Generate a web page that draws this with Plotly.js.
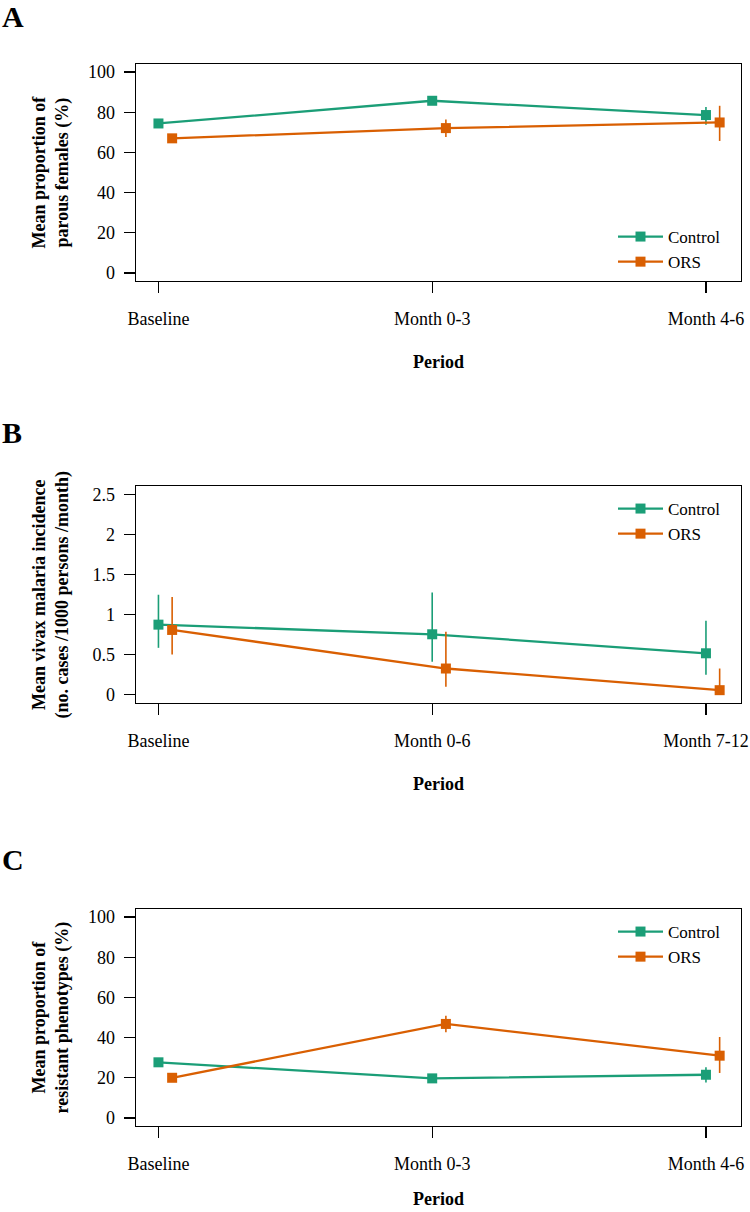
<!DOCTYPE html>
<html>
<head>
<meta charset="utf-8">
<script src="https://cdn.plot.ly/plotly-3.0.1.min.js"></script>
<style>
  html, body { margin: 0; padding: 0; background: #fff; }
  #chart { width: 750px; height: 1212px; }
</style>
</head>
<body>
<div id="chart"></div>
<script>
// panel A: parous females (%)
const periodsA = ["Baseline", "Month 0-3", "Month 4-6"];
const controlA = [74.4, 85.7, 78.6];
const controlALow = [73.4, 84.7, 73.8];
const controlAHigh = [75.4, 86.7, 82.6];
const orsA = [67.0, 72.1, 74.9];
const orsALow = [66.0, 67.7, 65.7];
const orsAHigh = [68.0, 76.4, 83.2];

// panel B: vivax malaria incidence
const periodsB = ["Baseline", "Month 0-6", "Month 7-12"];
const controlB = [0.874, 0.754, 0.517];
const controlBLow = [0.585, 0.41, 0.249];
const controlBHigh = [1.247, 1.276, 0.924];
const orsB = [0.808, 0.327, 0.057];
const orsBLow = [0.501, 0.10, 0.0];
const orsBHigh = [1.219, 0.784, 0.327];

// panel C: resistant phenotypes (%)
const periodsC = ["Baseline", "Month 0-3", "Month 4-6"];
const controlC = [27.7, 19.7, 21.5];
const controlCLow = [26.7, 17.7, 17.7];
const controlCHigh = [28.7, 21.5, 25.2];
const orsC = [20.0, 46.8, 31.0];
const orsCLow = [19.0, 42.6, 22.4];
const orsCHigh = [21.0, 50.9, 40.3];

const seriesNames = ["Control", "ORS"];
const colors = ["#1b9e77", "#d95f02"];
const positions = [1, 2, 3];
const orsShift = 0.05;

const W = 750, H = 1212;
const FONT = "Liberation Serif, Times New Roman, serif";
const px = (x) => x / W;
const py = (y) => 1 - y / H;

function series(k, xs, mean, low, high, xa, ya, legendId) {
  return {
    type: "scatter",
    mode: "lines+markers",
    name: seriesNames[k],
    x: xs,
    y: mean,
    xaxis: xa,
    yaxis: ya,
    legend: legendId,
    line: { color: colors[k], width: 2.3 },
    marker: { color: colors[k], symbol: "square", size: 10 },
    error_y: {
      type: "data",
      symmetric: false,
      array: high.map((v, i) => v - mean[i]),
      arrayminus: mean.map((v, i) => v - low[i]),
      color: colors[k],
      thickness: 1.6,
      width: 0
    },
    hoverinfo: "skip"
  };
}

const orsX = positions.map((p) => p + orsShift);

const traces = [
  series(0, positions, controlA, controlALow, controlAHigh, "x", "y", "legend"),
  series(1, orsX, orsA, orsALow, orsAHigh, "x", "y", "legend"),
  series(0, positions, controlB, controlBLow, controlBHigh, "x2", "y2", "legend2"),
  series(1, orsX, orsB, orsBLow, orsBHigh, "x2", "y2", "legend2"),
  series(0, positions, controlC, controlCLow, controlCHigh, "x3", "y3", "legend3"),
  series(1, orsX, orsC, orsCLow, orsCHigh, "x3", "y3", "legend3")
];

// plot boxes in pixels: [top, bottom]
const boxes = [[64, 281], [486, 703], [909, 1126]];
const boxLeft = 136, boxRight = 741;

function xAxis(anchor, labels) {
  return {
    anchor: anchor,
    domain: [px(boxLeft), px(boxRight)],
    range: [0.918, 3.128],
    tickvals: positions,
    ticktext: labels,
    ticks: "outside",
    ticklen: 11,
    tickwidth: 1.3,
    tickcolor: "#000",
    ticklabelstandoff: 10,
    showline: true,
    mirror: true,
    linecolor: "#000",
    linewidth: 1.3,
    showgrid: false,
    zeroline: false,
    tickfont: { family: FONT, size: 18, color: "#000" },
    fixedrange: true
  };
}

function yAxis(anchor, box, range, tickvals) {
  return {
    anchor: anchor,
    domain: [py(box[1]), py(box[0])],
    range: range,
    tickvals: tickvals,
    ticktext: tickvals.map(String),
    ticks: "outside",
    ticklen: 11,
    tickwidth: 1.3,
    tickcolor: "#000",
    ticklabelstandoff: 5,
    showline: true,
    mirror: true,
    linecolor: "#000",
    linewidth: 1.3,
    showgrid: false,
    zeroline: false,
    tickfont: { family: FONT, size: 18, color: "#000" },
    fixedrange: true
  };
}

function legendAt(topPx) {
  return {
    x: px(613),
    y: py(topPx),
    xanchor: "left",
    yanchor: "top",
    bgcolor: "rgba(0,0,0,0)",
    borderwidth: 0,
    itemwidth: 45,
    tracegroupgap: 0,
    font: { family: FONT, size: 17, color: "#000" }
  };
}

const bold = (t) => "<b>" + t + "</b>";
const annotations = [];
const letters = ["A", "B", "C"];
const letterTop = [-2, 414, 841];
const periodY = [362, 784, 1199];
const yTitles = [
  "Mean proportion of<br>parous females (%)",
  "Mean vivax malaria incidence<br>(no. cases /1000 persons /month)",
  "Mean proportion of<br>resistant phenotypes (%)"
];
boxes.forEach((box, i) => {
  annotations.push({
    text: bold(letters[i]), xref: "paper", yref: "paper",
    x: 0, y: py(letterTop[i]), xanchor: "left", yanchor: "top",
    showarrow: false, font: { family: FONT, size: 30, color: "#000" }
  });
  annotations.push({
    text: bold(yTitles[i]), xref: "paper", yref: "paper",
    x: px(50), y: py((box[0] + box[1]) / 2), xanchor: "center", yanchor: "middle",
    textangle: -90, showarrow: false,
    font: { family: FONT, size: 18, color: "#000" }
  });
  annotations.push({
    text: bold("Period"), xref: "paper", yref: "paper",
    x: px((boxLeft + boxRight) / 2), y: py(periodY[i]), xanchor: "center", yanchor: "middle",
    showarrow: false, font: { family: FONT, size: 18, color: "#000" }
  });
});

const layout = {
  width: W,
  height: H,
  margin: { l: 0, r: 0, t: 0, b: 0 },
  paper_bgcolor: "#fff",
  plot_bgcolor: "#fff",
  xaxis: xAxis("y", periodsA),
  yaxis: yAxis("x", boxes[0], [-4, 104], [0, 20, 40, 60, 80, 100]),
  xaxis2: xAxis("y2", periodsB),
  yaxis2: yAxis("x2", boxes[1], [-0.103, 2.603], [0, 0.5, 1, 1.5, 2, 2.5]),
  xaxis3: xAxis("y3", periodsC),
  yaxis3: yAxis("x3", boxes[2], [-4, 104], [0, 20, 40, 60, 80, 100]),
  legend: legendAt(219),
  legend2: legendAt(491),
  legend3: legendAt(914),
  annotations: annotations
};

Plotly.newPlot("chart", traces, layout, { displayModeBar: false, staticPlot: true });
</script>
</body>
</html>
